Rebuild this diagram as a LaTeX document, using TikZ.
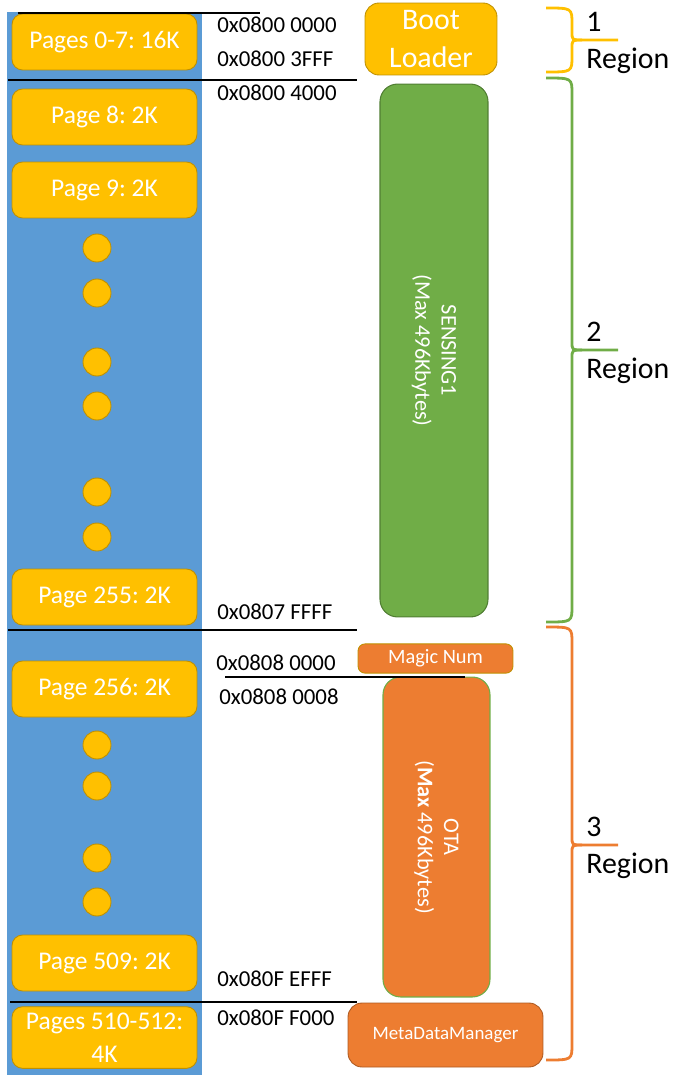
\documentclass[tikz,border=0pt]{standalone}
\usepackage{fontspec}
\setmainfont{Carlito}
\frenchspacing
\usetikzlibrary{positioning}
\definecolor{flashBlue}{HTML}{5B9BD5}
\definecolor{flashBlueEdge}{HTML}{41719C}
\definecolor{flashYellow}{HTML}{FFC000}
\definecolor{flashYellowEdge}{HTML}{BF9000}
\definecolor{flashGreen}{HTML}{70AD47}
\definecolor{flashGreenEdge}{HTML}{507E32}
\definecolor{flashOrange}{HTML}{ED7D31}
\definecolor{flashOrangeEdge}{HTML}{AE5A21}

\begin{document}
\begin{tikzpicture}[x=0.02cm,y=-0.02cm,
    page/.style={fill=flashYellow,draw=flashYellowEdge,line width=0.5pt,text=white,
                 rounded corners=6pt,minimum width=3.7cm,minimum height=1.12cm,
                 font=\fontsize{14.5}{19}\selectfont},
    pagedot/.style={circle,fill=flashYellow,draw=flashYellowEdge,line width=0.5pt,
                    minimum size=0.56cm,inner sep=0pt},
    addr/.style={anchor=west,inner sep=0pt,font=\fontsize{13}{15}\selectfont},
    part/.style={line width=0.6pt,text=white,rounded corners=10pt,rotate=-90,
                 align=center,font=\fontsize{12.7}{15}\selectfont},
    tag/.style={fill=flashOrange,line width=0.5pt,text=white,rounded corners=4pt},
    divider/.style={line width=1.6pt}]
  \useasboundingbox (0,0) rectangle (675,1075);

  % flash pages
  \fill[flashBlue] (7,12) rectangle (202,1075);
  \node[page] (pg0) at (104.5,42) {Pages 0-7: 16K};
  \node[page] (pg8) at (104.5,117) {Page 8: 2K};
  \node[page] (pg9) at (104.5,190) {Page 9: 2K};
  \foreach \y in {248,293,362,406,492,537,745,786,858,902}
    \node[pagedot] (dot\y) at (97,\y) {};
  \node[page] (pg255) at (104.5,597) {Page 255: 2K};
  \node[page] (pg256) at (104.5,689) {Page 256: 2K};
  \node[page] (pg509) at (104.5,963) {Page 509: 2K};
  \node[page,minimum height=1.22cm,align=center] (pg510) at (104.5,1037.5)
       {Pages 510-512:\\4K};

  % addresses
  \node[addr] (a0) at (217,25) {0x0800 0000};
  \node[addr] (a1) at (217,59) {0x0800 3FFF};
  \node[addr] (a2) at (217,93) {0x0800 4000};
  \node[addr] (a3) at (217,612) {0x0807 FFFF};
  \node[addr] (a4) at (216,663) {0x0808 0000};
  \node[addr] (a5) at (219,697) {0x0808 0008};
  \node[addr] (a6) at (217,979) {0x080F EFFF};
  \node[addr] (a7) at (217,1018) {0x080F F000};

  % partitions
  \node[fill=flashYellow,draw=flashYellowEdge,line width=0.5pt,text=white,
        rounded corners=8pt,minimum width=2.64cm,minimum height=1.44cm,align=center,
        font=\fontsize{17}{21.5}\selectfont] (boot) at (431,39) {Boot\\Loader};
  \node[part,fill=flashGreen,draw=flashGreenEdge,minimum width=10.66cm,
        minimum height=2.16cm] (sensing) at (434,350.5) {SENSING1\\(Max 496Kbytes)};
  \node[tag,draw=flashYellowEdge,minimum width=3.1cm,minimum height=0.54cm,
        font=\fontsize{11.6}{14}\selectfont] (magic) at (435.5,658.5) {Magic Num};
  \node[part,fill=flashOrange,draw=flashGreen,minimum width=6.4cm,
        minimum height=2.14cm] (ota) at (436.5,837) {OTA\\(\textbf{Max} 496Kbytes)};
  \node[tag,draw=flashOrangeEdge,rounded corners=8pt,minimum width=3.9cm,
        minimum height=1.28cm,font=\fontsize{10.8}{13}\selectfont] (meta)
        at (445.5,1035) {MetaDataManager};

  % boundaries
  \draw[divider] (18,13) -- (260,13);
  \draw[divider] (8,80) -- (357,80);
  \draw[divider] (8,630) -- (357,630);
  \draw[divider] (225,677) -- (465,677);
  \draw[divider] (10,1002) -- (357,1002);

  % regions
  \foreach \ya/\ym/\yb/\col/\num in {8/40/72/flashYellow/1,
      78/350/622/flashGreen/2, 627/845/1060/flashOrange/3}{
    \draw[\col,line width=1.6pt] (546,\ya) .. controls (572,\ya) .. (572,\ya+16)
      -- (572,\ym-8) .. controls (572,\ym) .. (582,\ym) -- (618,\ym);
    \draw[\col,line width=1.6pt] (582,\ym) .. controls (572,\ym) .. (572,\ym+8)
      -- (572,\yb-16) .. controls (572,\yb) .. (546,\yb);
    \node[anchor=west,inner sep=0pt,font=\fontsize{17}{20}\selectfont]
      (num\num) at (586,\ym-18) {\num};
    \node[anchor=west,inner sep=0pt,font=\fontsize{17}{20}\selectfont]
      (reg\num) at (586,\ym+21) {Region};
  }
\end{tikzpicture}
\end{document}
